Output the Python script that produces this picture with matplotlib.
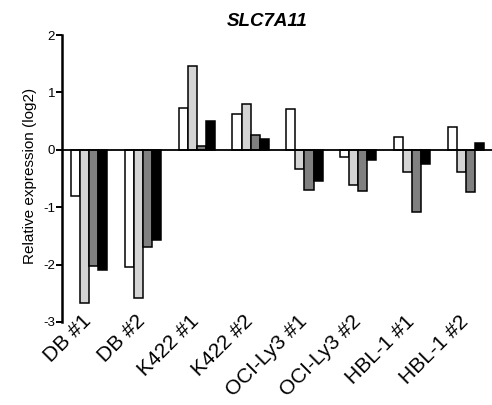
import numpy as np
import matplotlib
matplotlib.use("Agg")
import matplotlib.pyplot as plt
from matplotlib.transforms import ScaledTranslation

plt.rcParams['font.family'] = ['Liberation Sans', 'DejaVu Sans']

# Data (log2 relative expression)
samples = ["DB #1", "DB #2", "K422 #1", "K422 #2",
           "OCI-Ly3 #1", "OCI-Ly3 #2", "HBL-1 #1", "HBL-1 #2"]
series_1 = [-0.80, -2.05, 0.73, 0.63, 0.71, -0.12, 0.23, 0.40]
series_2 = [-2.67, -2.58, 1.46, 0.79, -0.34, -0.61, -0.39, -0.38]
series_3 = [-2.02, -1.70, 0.06, 0.26, -0.70, -0.71, -1.09, -0.74]
series_4 = [-2.10, -1.57, 0.50, 0.18, -0.55, -0.17, -0.24, 0.12]
y_ticks = [-3, -2, -1, 0, 1, 2]

colors = ['#ffffff', '#d4d4d4', '#808080', '#000000']
all_series = [series_1, series_2, series_3, series_4]

fig = plt.figure(figsize=(4.92, 4.05), dpi=100)
ax = fig.add_axes([62 / 492, 1 - 322 / 405, 1 - 62 / 492, 287 / 405])

x = np.arange(len(samples))
width = 0.168
for k, (vals, col) in enumerate(zip(all_series, colors)):
    ax.bar(x + (k - 1.5) * width, vals, width, color=col,
           edgecolor='black', linewidth=1.1, zorder=2)

ax.axhline(0, color='black', linewidth=1.3, zorder=3)

ax.set_xlim(-0.5, 7.48)
ax.set_ylim(-3, 2)
ax.set_yticks(y_ticks)
ax.set_yticklabels([str(t) for t in y_ticks], fontsize=9.5)
ax.tick_params(axis='y', direction='out', length=4, width=1.4, pad=1)

ax.set_xticks(x)
ax.set_xticklabels(samples, fontsize=15, rotation=45, ha='right',
                   rotation_mode='anchor')
ax.tick_params(axis='x', length=0, pad=2)
offset = ScaledTranslation(-7 / 100, 13 / 100, fig.dpi_scale_trans)
for lab in ax.get_xticklabels():
    lab.set_transform(lab.get_transform() + offset)

for side in ['top', 'right', 'bottom']:
    ax.spines[side].set_visible(False)
ax.spines['left'].set_linewidth(1.8)

ax.set_ylabel("Relative expression (log2)", fontsize=11)
ax.yaxis.set_label_coords(-0.058, 0.51)

fig.text(266.7 / 492, 1 - 26 / 405, "SLC7A11", fontsize=13.5,
         fontweight='bold', fontstyle='italic', ha='center', va='baseline')

fig.savefig("out.png", dpi=100)
